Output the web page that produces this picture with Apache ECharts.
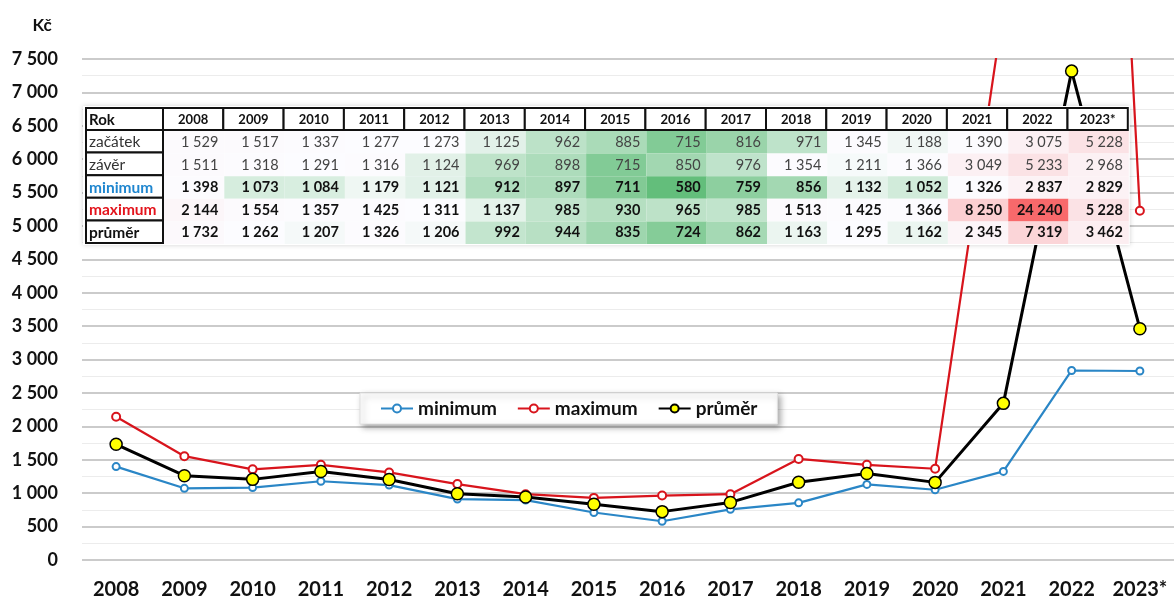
<!DOCTYPE html>
<html>
<head>
<meta charset="utf-8">
<script src="https://cdn.jsdelivr.net/npm/echarts@6/dist/echarts.min.js"></script>
<style>
  html, body { margin: 0; padding: 0; background: #fff; }
  #chart { width: 1174px; height: 600px; }
</style>
</head>
<body>
<div id="chart"></div>
<script>
// Years (table header and x axis)
const years = ['2008','2009','2010','2011','2012','2013','2014','2015','2016','2017','2018','2019','2020','2021','2022','2023*'];

// Prices in Kč per year
const zacatek = [1529, 1517, 1337, 1277, 1273, 1125, 962, 885, 715, 816, 971, 1345, 1188, 1390, 3075, 5228];
const zaver   = [1511, 1318, 1291, 1316, 1124, 969, 898, 715, 850, 976, 1354, 1211, 1366, 3049, 5233, 2968];
const minimum = [1398, 1073, 1084, 1179, 1121, 912, 897, 711, 580, 759, 856, 1132, 1052, 1326, 2837, 2829];
const maximum = [2144, 1554, 1357, 1425, 1311, 1137, 985, 930, 965, 985, 1513, 1425, 1366, 8250, 24240, 5228];
const prumer  = [1732, 1262, 1207, 1326, 1206, 992, 944, 835, 724, 862, 1163, 1295, 1162, 2345, 7319, 3462];

// Row labels of the summary table
const rowLabels = ['začátek', 'závěr', 'minimum', 'maximum', 'průměr'];

const FONT = 'Lato, "Noto Sans", sans-serif';

function fmt(v) {
  return String(v).replace(/\B(?=(\d{3})+(?!\d))/g, ' ');
}

// Three-colour scale (low = green, median = white, high = red) over the whole table
const tableRows = [zacatek, zaver, minimum, maximum, prumer];
const allVals = tableRows.flat().slice().sort((a, b) => a - b);
const vMin = allVals[0], vMax = allVals[allVals.length - 1];
function percentile(arr, p) {
  const pos = (arr.length - 1) * p, lo = Math.floor(pos), hi = Math.ceil(pos);
  return arr[lo] + (arr[hi] - arr[lo]) * (pos - lo);
}
const vMid = percentile(allVals, 0.5);
const cLow = [99, 190, 123], cMid = [252, 252, 255], cHigh = [248, 105, 107];
function mix(a, b, t) {
  return 'rgb(' + a.map((x, i) => Math.round(x + (b[i] - x) * t)).join(',') + ')';
}
function heat(v) {
  if (v <= vMid) return mix(cLow, cMid, (v - vMin) / (vMid - vMin));
  return mix(cMid, cHigh, (v - vMid) / (vMax - vMid));
}

// Build the table as graphic elements
const tX = 86, labW = 77, colW = 60.3, tY = 108, headH = 22, rowH = 22.6;
const tW = labW + colW * years.length;
const tH = headH + rowH * rowLabels.length;
const els = [];
els.push({ type: 'rect', z: 50, shape: { x: tX - 3, y: tY - 2, width: tW + 5, height: tH + 4 },
  style: { fill: '#fff', shadowBlur: 5, shadowColor: 'rgba(0,0,0,0.18)' } });

// header
const hdrCells = ['Rok'].concat(years);
hdrCells.forEach((t, i) => {
  const x = i === 0 ? tX : tX + labW + colW * (i - 1);
  const w = i === 0 ? labW : colW;
  els.push({ type: 'rect', z: 52, shape: { x: x, y: tY, width: w, height: headH },
    style: { fill: '#fff', stroke: '#111', lineWidth: 2 } });
  els.push({ type: 'text', z: 53, x: i === 0 ? x + 3 : x + w / 2, y: tY + headH / 2 + 1,
    style: { text: t, fontFamily: FONT, fontSize: i === 0 ? 15 : 13, fontWeight: 'bold', fill: '#111',
      align: i === 0 ? 'left' : 'center', verticalAlign: 'middle' } });
});

const labelColors = ['#333', '#333', '#1f86cf', '#e3141c', '#111'];
tableRows.forEach((row, r) => {
  const y = tY + headH + rowH * r;
  const bold = r >= 2;
  els.push({ type: 'rect', z: 52, shape: { x: tX, y: y, width: labW, height: rowH },
    style: { fill: '#fff', stroke: '#111', lineWidth: 2 } });
  els.push({ type: 'text', z: 53, x: tX + 3, y: y + rowH / 2 + 1,
    style: { text: rowLabels[r], fontFamily: FONT, fontSize: 15.5, fontWeight: bold ? 'bold' : 'normal',
      fill: labelColors[r], align: 'left', verticalAlign: 'middle' } });
  row.forEach((v, c) => {
    const x = tX + labW + colW * c;
    els.push({ type: 'rect', z: 51, shape: { x: x + 1, y: y + 1, width: colW, height: rowH },
      style: { fill: heat(v) } });
    els.push({ type: 'text', z: 53, x: x + colW - 5, y: y + rowH / 2 + 1,
      style: { text: fmt(v), fontFamily: FONT, fontSize: 14.5, fontWeight: bold ? 'bold' : 'normal',
        fill: bold ? '#111' : '#444', align: 'right', verticalAlign: 'middle' } });
  });
});

// Axis unit
els.push({ type: 'text', z: 53, x: 42, y: 26,
  style: { text: 'Kč', fontFamily: FONT, fontSize: 17, fontWeight: 'bold', fill: '#111',
    align: 'center', verticalAlign: 'middle' } });

const chart = echarts.init(document.getElementById('chart'));
chart.setOption({
  animation: false,
  backgroundColor: '#fff',
  grid: { left: 82, right: 0, top: 59, bottom: 40, containLabel: false },
  legend: {
    left: 360, top: 393,
    padding: [6, 20, 6, 20],
    itemGap: 20,
    itemWidth: 32, itemHeight: 10,
    backgroundColor: '#fff',
    borderColor: '#e0e0e0', borderWidth: 1,
    shadowColor: 'rgba(0,0,0,0.35)', shadowBlur: 6, shadowOffsetX: 3, shadowOffsetY: 3,
    textStyle: { fontFamily: FONT, fontSize: 19, fontWeight: 'bold', color: '#111' },
    data: ['minimum', 'maximum', 'průměr']
  },
  xAxis: {
    type: 'category',
    data: years,
    boundaryGap: true,
    axisLine: { show: false },
    axisTick: { show: false },
    axisLabel: { interval: 0, margin: 20, fontFamily: FONT, fontSize: 20, fontWeight: 'bold', color: '#111' }
  },
  yAxis: {
    type: 'value',
    min: 0, max: 7500, interval: 500,
    axisLine: { show: false },
    axisTick: { show: false },
    axisLabel: { margin: 24, fontFamily: FONT, fontSize: 18, fontWeight: 'bold', color: '#111',
      formatter: v => fmt(v) },
    splitLine: { lineStyle: { color: '#cbcbcb', width: 2 } },
    minorTick: { show: false, splitNumber: 2 },
    minorSplitLine: { show: true, lineStyle: { color: '#ececec', width: 1 } }
  },
  graphic: { elements: els },
  series: [
    {
      name: 'minimum', type: 'line', data: minimum, clip: true,
      symbol: 'emptyCircle', symbolSize: 7,
      lineStyle: { color: '#2a86c6', width: 2.2 },
      itemStyle: { color: '#2a86c6', borderWidth: 1.8 }
    },
    {
      name: 'maximum', type: 'line', data: maximum, clip: true,
      symbol: 'emptyCircle', symbolSize: 8,
      lineStyle: { color: '#d8141c', width: 2.2 },
      itemStyle: { color: '#d8141c', borderWidth: 1.8 }
    },
    {
      name: 'průměr', type: 'line', data: prumer, clip: true,
      symbol: 'circle', symbolSize: 12,
      lineStyle: { color: '#000', width: 3 },
      itemStyle: { color: '#ffff00', borderColor: '#000', borderWidth: 1.5 }
    }
  ]
});
</script>
</body>
</html>
